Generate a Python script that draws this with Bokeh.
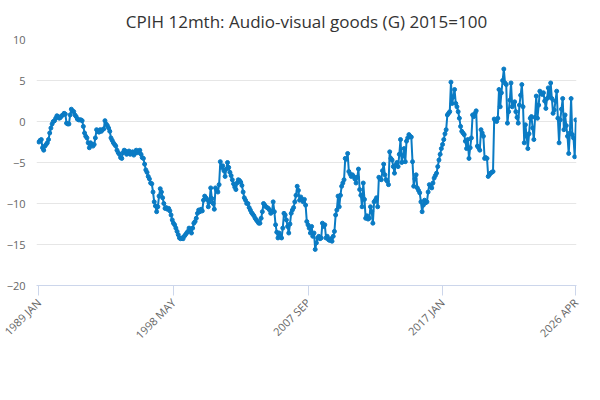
import math
from bokeh.plotting import figure
from bokeh.models import FixedTicker, Legend, LegendItem, Title, Label, Range1d
from bokeh.embed import file_html
from bokeh.resources import INLINE

tick_labels = ["1989 JAN", "1998 MAY", "2007 SEP", "2017 JAN", "2026 APR"]
tick_index = [0, 112, 224, 336, 447]

v1989 = [-2.5,-2.3,-2.2,-3.2,-3.5,-3.0,-2.8,-2.6,-2.2,-1.4,-0.8,-0.3]
v1990 = [0.0,0.1,0.4,0.7,0.6,0.4,0.5,0.7,0.8,1.0,0.9,-0.2]
v1991 = [-0.3,-0.3,0.8,1.5,1.3,1.2,0.8,0.6,0.3,0.2,0.2,0.2]
v1992 = [0.1,-0.6,-1.4,-1.8,-2.0,-2.6,-3.2,-2.6,-2.8,-3.0,-2.8,-2.0]
v1993 = [-1.0,-1.2,-1.3,-1.0,-1.2,-1.0,-0.9,0.1,-0.3,-0.5,-0.8,-1.2]
v1994 = [-2.0,-2.3,-2.6,-2.8,-3.0,-3.5,-3.8,-4.0,-4.4,-4.5,-3.8,-3.5]
v1995 = [-3.6,-4.0,-3.8,-3.6,-4.0,-3.8,-3.7,-4.1,-3.9,-3.5,-3.8,-3.6]
v1996 = [-3.5,-4.0,-4.4,-4.5,-5.2,-5.9,-6.2,-6.7,-7.0,-7.5,-7.6,-8.6]
v1997 = [-9.8,-10.3,-11.0,-10.4,-9.1,-8.2,-8.6,-9.3,-10.0,-10.6,-10.5,-10.7]
v1998 = [-10.6,-10.9,-11.4,-12.0,-12.4,-12.6,-13.0,-13.4,-13.8,-14.2,-14.3,-14.2]
v1999 = [-14.3,-14.0,-13.8,-13.6,-13.4,-13.0,-13.3,-13.6,-13.0,-12.4,-12.2,-11.8]
v2000 = [-11.2,-10.8,-11.0,-10.7,-10.9,-9.6,-9.1,-9.3,-9.5,-10.4,-9.8,-8.1]
v2001 = [-9.4,-10.0,-10.7,-8.1,-8.4,-8.6,-7.7,-4.9,-5.6,-5.4,-6.0,-6.7]
v2002 = [-5.8,-5.0,-5.6,-6.2,-6.6,-7.1,-7.6,-8.0,-8.3,-7.5,-7.1,-7.2]
v2003 = [-7.4,-7.8,-8.6,-9.3,-9.6,-10.0,-10.0,-10.5,-10.8,-11.1,-11.3,-11.5]
v2004 = [-11.8,-12.0,-12.2,-12.4,-12.4,-11.8,-11.0,-10.0,-10.2,-10.4,-10.5,-10.6]
v2005 = [-10.8,-11.2,-11.0,-9.8,-11.0,-12.6,-13.5,-14.2,-13.6,-14.0,-14.2,-13.0]
v2006 = [-11.2,-11.4,-12.0,-12.8,-13.6,-12.5,-11.2,-10.8,-10.5,-9.8,-9.0,-7.9]
v2007 = [-8.4,-9.6,-9.2,-9.5,-9.8,-9.5,-10.2,-12.2,-12.6,-13.0,-13.6,-12.8]
v2008 = [-14.0,-13.6,-15.6,-14.8,-14.2,-14.0,-14.3,-14.2,-12.4,-12.8,-12.6,-14.2]
v2009 = [-14.0,-14.4,-14.5,-14.3,-14.6,-14.0,-13.4,-11.4,-10.8,-9.1,-10.4,-9.0]
v2010 = [-7.9,-7.5,-7.1,-4.5,-4.6,-3.9,-6.1,-6.4,-6.7,-6.5,-6.7,-7.0]
v2011 = [-7.5,-6.8,-5.8,-8.3,-9.0,-10.4,-7.5,-9.5,-11.8,-11.5,-11.9,-11.8]
v2012 = [-10.4,-11.0,-12.4,-9.8,-9.6,-9.3,-10.4,-6.8,-7.0,-7.1,-6.0,-5.2]
v2013 = [-6.5,-7.1,-7.3,-7.7,-3.7,-4.5,-4.7,-5.5,-6.3,-5.3,-5.0,-5.5]
v2014 = [-4.0,-2.2,-5.0,-4.2,-3.3,-4.9,-2.4,-2.0,-1.6,-1.8,-1.9,-4.9]
v2015 = [-7.9,-7.0,-6.5,-8.1,-8.4,-8.7,-9.8,-11.0,-10.2,-9.6,-9.9,-9.8]
v2016 = [-8.6,-7.7,-7.9,-8.1,-7.5,-6.9,-6.6,-6.3,-5.5,-4.7,-4.0,-3.3]
v2017 = [-2.8,-2.2,-1.5,-1.0,0.8,1.0,1.2,4.8,2.2,3.0,3.9,2.2]
v2018 = [1.8,1.2,0.4,-0.6,-1.2,-1.4,-1.6,-2.4,-3.3,-2.2,-4.5,-3.2]
v2019 = [-2.0,0.8,0.6,1.0,1.3,-3.0,-3.2,-3.5,-1.0,-1.4,-1.8,-4.5]
v2020 = [-4.4,-4.5,-6.7,-6.5,-6.3,-6.2,-6.1,0.3,0.1,0.0,0.4,3.9]
v2021 = [1.8,3.5,5.0,6.4,4.7,4.5,-0.2,1.2,2.6,4.7,1.8,2.1]
v2022 = [2.4,1.2,0.5,-0.2,2.0,3.2,4.5,1.8,-2.6,-0.4,-1.8,-3.3]
v2023 = [-1.5,0.4,0.6,-0.8,-2.2,0.5,3.1,0.4,2.0,3.7,3.5,3.3]
v2024 = [3.5,2.5,1.6,2.8,4.1,3.0,4.7,2.8,1.0,1.4,2.5,3.7]
v2025 = [0.4,-2.6,0.2,1.5,2.8,-1.0,0.8,-0.5,-1.8,-3.9,-1.4,2.8]
v2026 = [-1.6,-2.0,-4.3,0.2]

values = (v1989 + v1990 + v1991 + v1992 + v1993 + v1994 + v1995 + v1996 + v1997 +
          v1998 + v1999 + v2000 + v2001 + v2002 + v2003 + v2004 + v2005 + v2006 +
          v2007 + v2008 + v2009 + v2010 + v2011 + v2012 + v2013 + v2014 + v2015 +
          v2016 + v2017 + v2018 + v2019 + v2020 + v2021 + v2022 + v2023 + v2024 +
          v2025 + v2026)
months = list(range(len(values)))

FONT = "Open Sans"
BLUE = "#0a7bc4"

p = figure(frame_width=540, frame_height=246, output_backend="svg", toolbar_location=None,
           x_range=Range1d(-2, len(values) - 1 + 0.5), y_range=Range1d(-20, 10),
           min_border_left=36, min_border_right=6, min_border_top=0, min_border_bottom=0)
p.title.text = "CPIH 12mth: Audio-visual goods (G) 2015=100"
p.title.align = "center"
p.title.text_font = FONT
p.title.text_font_size = "17px"
p.title.text_font_style = "normal"
p.title.text_color = "#333333"
p.title.standoff = 14
p.outline_line_color = None
p.background_fill_color = "white"

r = p.line(months, values, line_color=BLUE, line_width=2)
c = p.scatter(months, values, size=4, fill_color=BLUE, line_color=BLUE)

p.yaxis.ticker = FixedTicker(ticks=[-20, -15, -10, -5, 0, 5, 10])
p.yaxis.axis_line_color = None
p.yaxis.major_tick_line_color = None
p.yaxis.minor_tick_line_color = None
p.yaxis.major_label_text_font = FONT
p.yaxis.major_label_text_font_size = "11px"
p.yaxis.major_label_text_color = "#666666"
p.ygrid.grid_line_color = "#e6e6e6"
p.xgrid.grid_line_color = None

p.xaxis.ticker = FixedTicker(ticks=tick_index)
p.xaxis.major_label_overrides = {i: l for i, l in zip(tick_index, tick_labels)}
p.xaxis.major_label_orientation = math.pi / 4
p.xaxis.axis_line_color = "#ccd6eb"
p.xaxis.major_tick_line_color = "#ccd6eb"
p.xaxis.major_tick_in = 0
p.xaxis.major_tick_out = 10
p.xaxis.minor_tick_line_color = None
p.xaxis.major_label_text_font = FONT
p.xaxis.major_label_text_font_size = "11px"
p.xaxis.major_label_text_color = "#666666"

p.add_layout(Label(x=-2, y=10, x_offset=-32, y_offset=4, text="%", text_font=FONT,
                   text_font_size="12px", text_color="#666666"))

legend = Legend(items=[LegendItem(label="CPIH 12mth: Audio-visual goods (G) 2015=100", renderers=[r, c])],
                orientation="horizontal", location="center", border_line_color=None,
                label_text_font=FONT, label_text_font_size="12px", label_text_font_style="bold",
                label_text_color="#333333", glyph_width=18, padding=0, margin=4, spacing=0)
p.add_layout(legend, "below")

src = Title(text="Source:", align="right", text_font=FONT, text_font_size="12px",
            text_font_style="normal", text_color="#555555", standoff=0)
p.add_layout(src, "below")

open("out.html", "w").write(file_html(p, INLINE))
